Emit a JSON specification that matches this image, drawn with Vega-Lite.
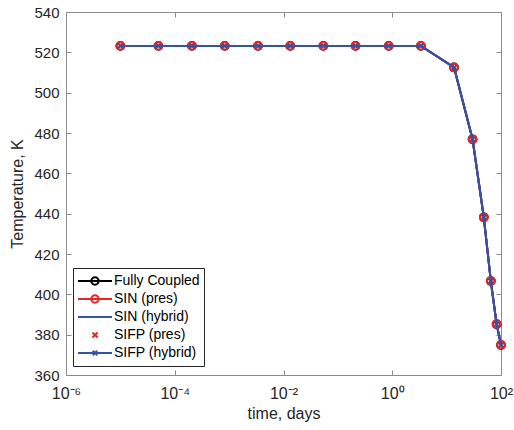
{
  "$schema": "https://vega.github.io/schema/vega-lite/v6.json",
  "width": 435,
  "height": 363,
  "autosize": {"type": "none"},
  "padding": {"left": 66, "top": 12, "right": 13, "bottom": 55},
  "background": "white",
  "data": {
    "values": [
      {"t": 0.00001, "Fully Coupled": 523.2, "SIN (pres)": 523.2, "SIN (hybrid)": 523.2, "SIFP (pres)": 523.2, "SIFP (hybrid)": 523.2},
      {"t": 0.00005, "Fully Coupled": 523.2, "SIN (pres)": 523.2, "SIN (hybrid)": 523.2, "SIFP (pres)": 523.2, "SIFP (hybrid)": 523.2},
      {"t": 0.000207, "Fully Coupled": 523.2, "SIN (pres)": 523.2, "SIN (hybrid)": 523.2, "SIFP (pres)": 523.2, "SIFP (hybrid)": 523.2},
      {"t": 0.00083, "Fully Coupled": 523.2, "SIN (pres)": 523.2, "SIN (hybrid)": 523.2, "SIFP (pres)": 523.2, "SIFP (hybrid)": 523.2},
      {"t": 0.0034, "Fully Coupled": 523.2, "SIN (pres)": 523.2, "SIN (hybrid)": 523.2, "SIFP (pres)": 523.2, "SIFP (hybrid)": 523.2},
      {"t": 0.0133, "Fully Coupled": 523.2, "SIN (pres)": 523.2, "SIN (hybrid)": 523.2, "SIFP (pres)": 523.2, "SIFP (hybrid)": 523.2},
      {"t": 0.054, "Fully Coupled": 523.2, "SIN (pres)": 523.2, "SIN (hybrid)": 523.2, "SIFP (pres)": 523.2, "SIFP (hybrid)": 523.2},
      {"t": 0.211, "Fully Coupled": 523.2, "SIN (pres)": 523.2, "SIN (hybrid)": 523.2, "SIFP (pres)": 523.2, "SIFP (hybrid)": 523.2},
      {"t": 0.86, "Fully Coupled": 523.2, "SIN (pres)": 523.2, "SIN (hybrid)": 523.2, "SIFP (pres)": 523.2, "SIFP (hybrid)": 523.2},
      {"t": 3.36, "Fully Coupled": 523.2, "SIN (pres)": 523.2, "SIN (hybrid)": 523.2, "SIFP (pres)": 523.2, "SIFP (hybrid)": 523.2},
      {"t": 13.7, "Fully Coupled": 512.5, "SIN (pres)": 512.5, "SIN (hybrid)": 512.5, "SIFP (pres)": 512.5, "SIFP (hybrid)": 512.5},
      {"t": 30, "Fully Coupled": 476.9, "SIN (pres)": 476.9, "SIN (hybrid)": 476.9, "SIFP (pres)": 476.9, "SIFP (hybrid)": 476.9},
      {"t": 48.3, "Fully Coupled": 438.2, "SIN (pres)": 438.2, "SIN (hybrid)": 438.2, "SIFP (pres)": 438.2, "SIFP (hybrid)": 438.2},
      {"t": 65, "Fully Coupled": 406.6, "SIN (pres)": 406.6, "SIN (hybrid)": 406.6, "SIFP (pres)": 406.6, "SIFP (hybrid)": 406.6},
      {"t": 83, "Fully Coupled": 385.2, "SIN (pres)": 385.2, "SIN (hybrid)": 385.2, "SIFP (pres)": 385.2, "SIFP (hybrid)": 385.2},
      {"t": 100, "Fully Coupled": 374.9, "SIN (pres)": 374.9, "SIN (hybrid)": 374.9, "SIFP (pres)": 374.9, "SIFP (hybrid)": 374.9}
    ]
  },
  "transform": [
    {"fold": ["Fully Coupled", "SIN (pres)", "SIN (hybrid)", "SIFP (pres)", "SIFP (hybrid)"], "as": ["series", "T"]}
  ],
  "layer": [
    {
      "encoding": {
        "x": {
          "field": "t", "type": "quantitative",
          "scale": {"type": "log", "domain": [0.000001, 100], "nice": false},
          "axis": {
            "orient": "bottom",
            "title": "time, days",
            "values": [0.000001, 0.0001, 0.01, 1, 100],
            "labelExpr": "datum.value < 5e-6 ? '10⁻⁶' : datum.value < 5e-4 ? '10⁻⁴' : datum.value < 0.05 ? '10⁻²' : datum.value < 5 ? '10⁰' : '10²'",
            "labelFontSize": 16,
            "labelPadding": 15,
            "titlePadding": 4
          }
        },
        "y": {
          "field": "T", "type": "quantitative",
          "scale": {"domain": [360, 540], "nice": false, "zero": false},
          "axis": {
            "orient": "left",
            "title": "Temperature, K",
            "values": [360, 380, 400, 420, 440, 460, 480, 500, 520, 540],
            "labelPadding": 12,
            "titlePadding": 8
          }
        }
      },
      "layer": [
        {
          "transform": [{"filter": "datum.series === 'Fully Coupled'"}],
          "mark": {"type": "line", "color": "#000000", "strokeWidth": 2}
        },
        {
          "transform": [{"filter": "datum.series === 'Fully Coupled'"}],
          "mark": {"type": "point", "shape": "circle", "filled": false, "color": "#000000", "size": 60, "strokeWidth": 2, "opacity": 1}
        },
        {
          "transform": [{"filter": "datum.series === 'SIN (pres)'"}],
          "mark": {"type": "line", "color": "#ee2222", "strokeWidth": 2}
        },
        {
          "transform": [{"filter": "datum.series === 'SIN (pres)'"}],
          "mark": {"type": "point", "shape": "circle", "filled": false, "color": "#ee2222", "size": 60, "strokeWidth": 2, "opacity": 1}
        },
        {
          "transform": [{"filter": "datum.series === 'SIN (hybrid)'"}],
          "mark": {"type": "line", "color": "#3552a5", "strokeWidth": 2}
        },
        {
          "transform": [{"filter": "datum.series === 'SIFP (pres)'"}],
          "mark": {"type": "point", "shape": "M-1,-1L1,1M-1,1L1,-1", "filled": false, "color": "#ee2222", "size": 25, "strokeWidth": 2, "opacity": 1}
        },
        {
          "transform": [{"filter": "datum.series === 'SIFP (hybrid)'"}],
          "mark": {"type": "line", "color": "#3552a5", "strokeWidth": 2}
        },
        {
          "transform": [{"filter": "datum.series === 'SIFP (hybrid)'"}],
          "mark": {"type": "point", "shape": "M-1,-1L1,1M-1,1L1,-1", "filled": false, "color": "#3552a5", "size": 20, "strokeWidth": 1.5, "opacity": 1}
        }
      ]
    },
    {
      "mark": {"type": "point", "filled": false, "opacity": 0},
      "encoding": {
        "x": {
          "field": "t", "type": "quantitative",
          "scale": {"type": "log", "domain": [0.000001, 100], "nice": false},
          "axis": {"orient": "top", "title": null, "labels": false, "values": [0.000001, 0.0001, 0.01, 1, 100]}
        },
        "y": {
          "field": "T", "type": "quantitative",
          "scale": {"domain": [360, 540], "nice": false, "zero": false},
          "axis": {"orient": "right", "title": null, "labels": false, "values": [360, 380, 400, 420, 440, 460, 480, 500, 520, 540]}
        },
        "color": {
          "field": "series", "type": "nominal",
          "scale": {
            "domain": ["Fully Coupled", "SIN (pres)", "SIN (hybrid)", "SIFP (pres)", "SIFP (hybrid)"],
            "range": ["#000000", "#ee2222", "#3552a5", "#ee2222", "#3552a5"]
          },
          "legend": {
            "title": null, "orient": "none", "legendX": 7, "legendY": 256,
            "symbolOpacity": 1, "symbolFillColor": "transparent", "symbolStrokeWidth": 2,
            "symbolSize": 1156, "clipHeight": 18, "rowPadding": 0, "labelOffset": 1,
            "padding": 4, "fillColor": "white", "strokeColor": "#262626",
            "labelFont": "Liberation Sans", "labelFontSize": 14, "labelColor": "#000000"
          }
        },
        "shape": {
          "field": "series", "type": "nominal",
          "scale": {
            "domain": ["Fully Coupled", "SIN (pres)", "SIN (hybrid)", "SIFP (pres)", "SIFP (hybrid)"],
            "range": [
              "M-1,0H1M0.22,0A0.22,0.22,0,1,1,-0.22,0A0.22,0.22,0,1,1,0.22,0",
              "M-1,0H1M0.22,0A0.22,0.22,0,1,1,-0.22,0A0.22,0.22,0,1,1,0.22,0",
              "M-1,0H1",
              "M-0.15,-0.15L0.15,0.15M-0.15,0.15L0.15,-0.15",
              "M-1,0H1M-0.13,-0.13L0.13,0.13M-0.13,0.13L0.13,-0.13"
            ]
          },
          "legend": {
            "title": null, "orient": "none", "legendX": 7, "legendY": 256,
            "symbolOpacity": 1, "symbolFillColor": "transparent", "symbolStrokeWidth": 2,
            "symbolSize": 1156, "clipHeight": 18, "rowPadding": 0, "labelOffset": 1,
            "padding": 4, "fillColor": "white", "strokeColor": "#262626",
            "labelFont": "Liberation Sans", "labelFontSize": 14, "labelColor": "#000000"
          }
        }
      }
    }
  ],
  "resolve": {"axis": {"x": "independent", "y": "independent"}},
  "config": {
    "view": {"stroke": null},
    "font": "Liberation Sans",
    "axis": {
      "grid": false,
      "domainColor": "#8a8a8a",
      "domainWidth": 1,
      "tickColor": "#8a8a8a",
      "tickWidth": 1,
      "tickSize": -5,
      "labelFont": "Liberation Sans",
      "labelFontSize": 15,
      "labelColor": "#262626",
      "labelFlush": false,
      "labelOverlap": false,
      "titleFont": "Liberation Sans",
      "titleFontSize": 16,
      "titleFontWeight": "normal",
      "titleColor": "#262626"
    }
  }
}
